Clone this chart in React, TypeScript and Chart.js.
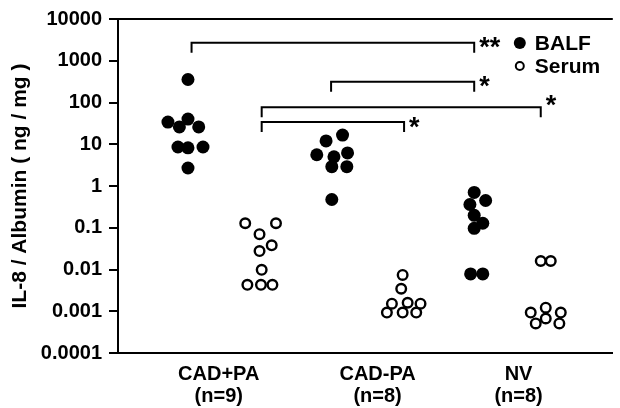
import React, { useEffect, useRef } from "react";
import { Chart, registerables } from "chart.js";

Chart.register(...registerables);

// ---------- data ----------
const groups = ["CAD+PA", "CAD-PA", "NV"];
const groupSizes = ["(n=9)", "(n=8)", "(n=8)"];
const seriesNames = ["BALF", "Serum"];

const yTickValues = [0.0001, 0.001, 0.01, 0.1, 1, 10, 100, 1000, 10000];
const yTickLabels = ["0.0001", "0.001", "0.01", "0.1", "1", "10", "100", "1000", "10000"];

// BALF values per group (ng/mg)
const balfCadPaPos = [355, 34, 26, 40, 26, 8.6, 8.2, 8.6, 2.7];
const balfCadPaNeg = [12, 16.6, 5.6, 5.0, 6.2, 2.9, 2.9, 0.475];
const balfNv = [0.7, 0.45, 0.36, 0.198, 0.128, 0.097, 0.00785, 0.00785];

// Serum values per group (ng/mg)
const serumCadPaPos = [0.128, 0.128, 0.07, 0.038, 0.0277, 0.0098, 0.0043, 0.0043, 0.0043];
const serumCadPaNeg = [0.0074, 0.00346, 0.00152, 0.0016, 0.00152, 0.00093, 0.00093, 0.00093];
const serumNv = [0.016, 0.016, 0.00093, 0.00122, 0.00093, 0.00051, 0.00067, 0.00051];

// horizontal jitter of each dot inside its column (column units)
const balfCadPaPosJitter = [0, -0.28, -0.12, 0, 0.15, -0.14, 0, 0.21, 0];
const balfCadPaNegJitter = [-0.07, 0.16, -0.2, 0.04, 0.23, 0.01, 0.22, 0.01];
const balfNvJitter = [0, 0.16, -0.06, 0, 0.12, 0, -0.05, 0.12];
const serumCadPaPosJitter = [-0.2, 0.23, 0, 0.17, 0, 0.03, -0.17, 0.02, 0.18];
const serumCadPaNegJitter = [0, -0.02, -0.15, 0.07, 0.25, -0.22, 0, 0.19];
const serumNvJitter = [-0.07, 0.07, -0.21, 0, 0.21, -0.14, 0, 0.19];

const balfValues = [balfCadPaPos, balfCadPaNeg, balfNv];
const balfJitter = [balfCadPaPosJitter, balfCadPaNegJitter, balfNvJitter];
const serumValues = [serumCadPaPos, serumCadPaNeg, serumNv];
const serumJitter = [serumCadPaPosJitter, serumCadPaNegJitter, serumNvJitter];

// significance brackets: column positions (BALF = 2g, Serum = 2g+1) and level
const bracketFrom = [0.05, 2, 1.03, 1.03];
const bracketTo = [4, 4, 4.93, 3.02];
const bracketLevel = [2700, 316, 77, 34];
const bracketMarks = ["**", "*", "*", "*"];

// positions of the group labels on the x axis (column units)
const groupLabelPos = [0.43, 2.65, 4.62];

// ---------- styles ----------
const FONT = "'Liberation Sans', Arial, Helvetica, sans-serif";
const INK = "#000";
const markRaise = [0, 0, 7, 0];

function buildPoints(values: number[][], jitter: number[][], slotOffset: number) {
  const pts: { x: number; y: number }[] = [];
  values.forEach((arr, g) => {
    arr.forEach((v, i) => {
      pts.push({ x: 2 * g + slotOffset + jitter[g][i], y: v });
    });
  });
  return pts;
}

const framePlugin = {
  id: "frame",
  afterDraw(chart: any) {
    const { ctx, chartArea } = chart;
    ctx.save();
    ctx.strokeStyle = INK;
    ctx.lineWidth = 2;
    ctx.beginPath();
    ctx.moveTo(chartArea.left - 1, chartArea.top);
    ctx.lineTo(chartArea.right, chartArea.top);
    ctx.stroke();
    ctx.restore();
  },
};

const bracketPlugin = {
  id: "brackets",
  afterDatasetsDraw(chart: any) {
    const { ctx } = chart;
    const xs = chart.scales.x;
    const ys = chart.scales.y;
    ctx.save();
    ctx.strokeStyle = INK;
    ctx.fillStyle = INK;
    ctx.lineWidth = 2;
    ctx.font = `bold 27px ${FONT}`;
    ctx.textAlign = "left";
    ctx.textBaseline = "alphabetic";
    bracketLevel.forEach((lvl, i) => {
      const x1 = xs.getPixelForValue(bracketFrom[i]);
      const x2 = xs.getPixelForValue(bracketTo[i]);
      const y = ys.getPixelForValue(lvl);
      ctx.beginPath();
      ctx.moveTo(x1, y + 10);
      ctx.lineTo(x1, y);
      ctx.lineTo(x2, y);
      ctx.lineTo(x2, y + 10);
      ctx.stroke();
      const m = ctx.measureText(bracketMarks[i]);
      const centerAbove = (m.actualBoundingBoxAscent - m.actualBoundingBoxDescent) / 2;
      ctx.fillText(bracketMarks[i], x2 + 5, y - markRaise[i] + centerAbove);
    });
    ctx.restore();
  },
};

const legendPlugin = {
  id: "dotLegend",
  afterDraw(chart: any) {
    const { ctx, chartArea } = chart;
    const x = chartArea.right - 93;
    const rows = [chartArea.top + 24, chartArea.top + 47];
    ctx.save();
    ctx.font = `bold 21px ${FONT}`;
    ctx.textBaseline = "middle";
    ctx.textAlign = "left";
    chart.data.datasets.forEach((ds: any, i: number) => {
      const y = rows[i];
      ctx.beginPath();
      if (i === 0) {
        ctx.arc(x, y, 6, 0, Math.PI * 2);
        ctx.fillStyle = ds.backgroundColor;
        ctx.fill();
      } else {
        ctx.arc(x, y, 4, 0, Math.PI * 2);
        ctx.fillStyle = ds.backgroundColor;
        ctx.fill();
        ctx.lineWidth = 2;
        ctx.strokeStyle = ds.borderColor;
        ctx.stroke();
      }
      ctx.fillStyle = INK;
      ctx.fillText(ds.label, x + 15, y + 1);
    });
    ctx.restore();
  },
};

export default function App() {
  const ref = useRef<HTMLCanvasElement | null>(null);

  useEffect(() => {
    if (!ref.current) return;
    const chart = new Chart(ref.current, {
      type: "scatter",
      data: {
        datasets: [
          {
            label: seriesNames[0],
            data: buildPoints(balfValues, balfJitter, 0),
            backgroundColor: INK,
            borderColor: INK,
            borderWidth: 0,
            pointRadius: 6.5,
            pointStyle: "circle",
          },
          {
            label: seriesNames[1],
            data: buildPoints(serumValues, serumJitter, 1),
            backgroundColor: "#fff",
            borderColor: INK,
            borderWidth: 2.4,
            pointRadius: 4.8,
            pointStyle: "circle",
          },
        ],
      },
      options: {
        animation: false,
        responsive: false,
        devicePixelRatio: 1,
        clip: false as any,
        layout: { padding: { top: 16, left: 0, right: 0, bottom: 0 } },
        plugins: {
          legend: { display: false },
          tooltip: { enabled: false },
        },
        scales: {
          x: {
            type: "linear",
            min: -0.978,
            max: 5.937,
            afterBuildTicks: (scale: any) => {
              scale.ticks = groupLabelPos.map((v) => ({ value: v }));
            },
            afterFit: (scale: any) => {
              scale.height = 55;
            },
            grid: { display: false, drawTicks: false },
            border: { display: true, color: INK, width: 2 },
            ticks: {
              autoSkip: false,
              maxRotation: 0,
              padding: 10,
              color: INK,
              font: { family: FONT, size: 20, weight: "bold", lineHeight: 1.1 },
              callback: (_v: any, i: number) => [groups[i], groupSizes[i]],
            },
          },
          y: {
            type: "logarithmic",
            min: 0.0001,
            max: 10000,
            afterBuildTicks: (scale: any) => {
              scale.ticks = yTickValues.map((v) => ({ value: v }));
            },
            afterFit: (scale: any) => {
              scale.width = 118;
            },
            grid: {
              drawOnChartArea: false,
              drawTicks: true,
              tickLength: 9,
              color: INK,
              lineWidth: 2,
            },
            border: { display: true, color: INK, width: 2 },
            ticks: {
              autoSkip: false,
              padding: 7,
              color: INK,
              font: { family: FONT, size: 20, weight: "bold" },
              callback: (_v: any, i: number) => yTickLabels[i],
            },
            title: {
              display: true,
              text: "IL-8 / Albumin ( ng / mg )",
              color: INK,
              font: { family: FONT, size: 21, weight: "bold", lineHeight: 1.2 },
              padding: { top: 8, bottom: 0 },
            },
          },
        },
      },
      plugins: [framePlugin, bracketPlugin, legendPlugin],
    } as any);
    return () => chart.destroy();
  }, []);

  return (
    <div style={{ position: "fixed", left: 0, top: 0, width: 620, height: 408, background: "#fff" }}>
      <canvas ref={ref} width={620} height={408} style={{ display: "block", width: 620, height: 408 }} />
    </div>
  );
}
